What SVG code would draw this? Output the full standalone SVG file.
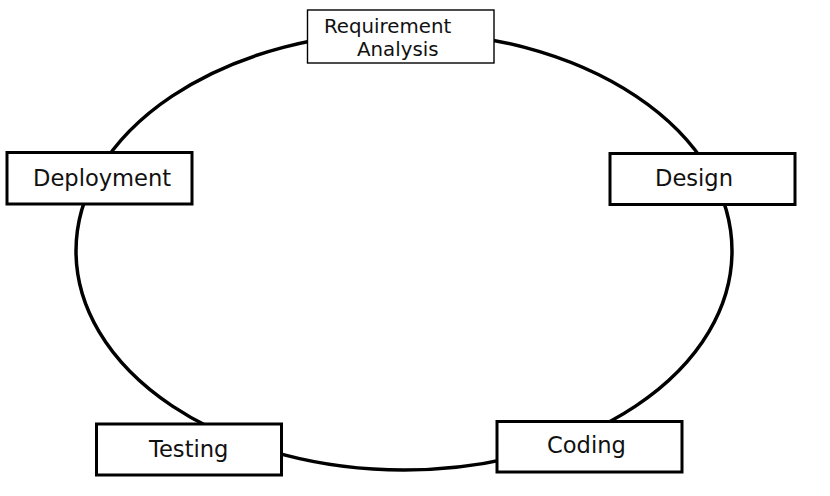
<svg xmlns="http://www.w3.org/2000/svg" width="830" height="496" viewBox="0 0 830 496">
<style>
.box{fill:#fff;stroke:#000;stroke-width:3}
.thin{stroke-width:1.4}
.lbl{font-family:"DejaVu Sans",sans-serif;font-size:22.6px;fill:#111}
.sm{font-size:19.8px}
</style>
<rect width="830" height="496" fill="#fff"/>
<g id="connectors">
<ellipse cx="404" cy="251" rx="328" ry="219" fill="none" stroke="#000" stroke-width="3.5"/>
</g>
<g id="requirement">
<rect class="box thin" x="307.5" y="10" width="186.5" height="53"/>
<text class="lbl sm" x="324" y="33">Requirement</text>
<text class="lbl sm" x="357" y="56">Analysis</text>
</g>
<g id="design">
<rect class="box" x="610" y="153.5" width="185" height="51"/>
<text class="lbl" x="655" y="186">Design</text>
</g>
<g id="coding">
<rect class="box" x="497" y="421.5" width="185" height="50.5"/>
<text class="lbl" x="547" y="453">Coding</text>
</g>
<g id="testing">
<rect class="box" x="96.5" y="424" width="185" height="51"/>
<text class="lbl" x="149" y="457">Testing</text>
</g>
<g id="deployment">
<rect class="box" x="7" y="152.5" width="185" height="51.5"/>
<text class="lbl" x="33" y="186">Deployment</text>
</g>
</svg>
